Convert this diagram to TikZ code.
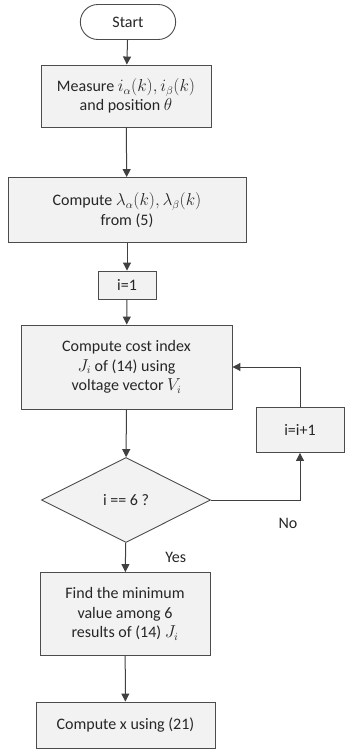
\documentclass[tikz,border=0pt]{standalone}
\usepackage{fontspec}
\setmainfont{Carlito}
\usetikzlibrary{shapes,arrows.meta,positioning,shapes.misc}

\begin{document}
\begin{tikzpicture}[
    x=1pt, y=-1pt,
    every node/.style={
        font=\fontsize{16}{19.5}\selectfont,
        text=black!85,
        align=center
    },
    procbox/.style={
        rectangle, draw=black!70,
        fill=black!5,
        line width=0.9pt,
        inner sep=0pt
    },
    termbox/.style={
        rounded rectangle, draw=black!70,
        fill=white,
        line width=0.9pt,
        minimum width=102pt, minimum height=35pt
    },
    decbox/.style={
        diamond, draw=black!70,
        fill=black!5,
        line width=0.9pt,
        minimum width=169pt, minimum height=85pt,
        inner sep=0pt
    },
    flow/.style={
        draw=black!75, line width=1pt,
        -{Triangle[width=8pt,length=8pt]}
    }
]
\useasboundingbox (0,0) rectangle (345,749);

\node[termbox] (start) at (128,22) {Start};
\node[procbox, minimum width=170pt, minimum height=62pt] (measure) at (126,96)
    {Measure $i_\alpha(k),i_\beta(k)$\\ and position $\theta$};
\node[procbox, minimum width=238pt, minimum height=65pt] (comp) at (127,210)
    {Compute $\lambda_\alpha(k),\lambda_\beta(k)$\\ from (5)};
\node[procbox, minimum width=58pt, minimum height=28pt] (ione) at (127,285) {i=1};
\node[procbox, minimum width=211pt, minimum height=84pt] (cost) at (126.5,367)
    {Compute cost index\\ $J_i$ of (14) using\\ voltage vector $V_i$};
\node[decbox] (dec) at (126,500) {i == 6 ?};
\node[procbox, minimum width=88pt, minimum height=45pt] (inc) at (300,430) {i=i+1};
\node[procbox, minimum width=170pt, minimum height=83pt] (find) at (125,614)
    {Find the minimum\\ value among 6\\ results of (14) $J_i$};
\node[procbox, minimum width=179pt, minimum height=46pt] (last) at (125.5,725)
    {Compute x using (21)};

% main line
\draw[flow] (start) -- (measure);
\draw[flow] (measure) -- (comp);
\draw[flow] (comp) -- (ione);
\draw[flow] (ione) -- (cost);
\draw[flow] (cost) -- (dec);
\draw[flow] (dec) -- node[right=36pt] {Yes} (find);
\draw[flow] (find) -- (last);

% loop back
\draw[flow] (dec.east) -| node[pos=0.5, below=14pt, xshift=-12pt] {No} (inc.south);
\draw[flow] (inc.north) |- (cost.east);
\end{tikzpicture}
\end{document}
